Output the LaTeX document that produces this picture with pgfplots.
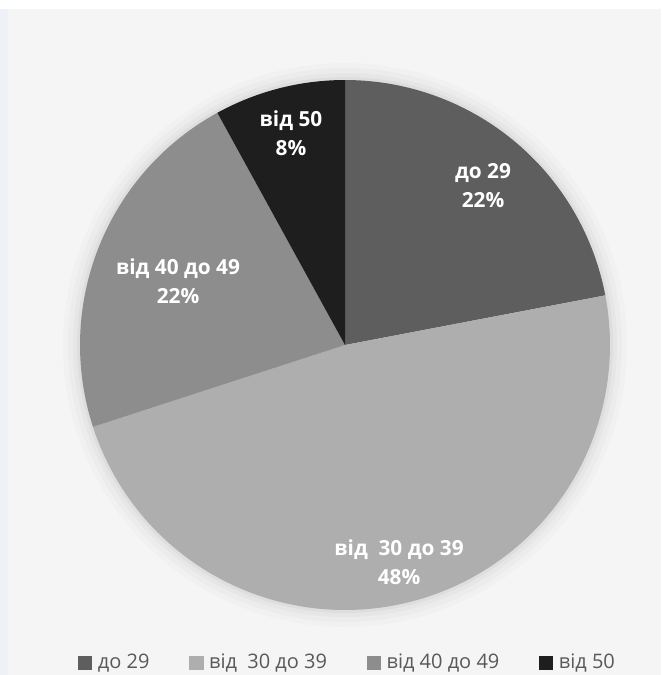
\documentclass[border=0pt]{standalone}
\usepackage{pgfplots}
\pgfplotsset{compat=1.18}
\usepackage{pgfplotstable}
\usepackage{fontspec}
\setmainfont{Open Sans}
\definecolor{cA}{HTML}{5E5E5E}
\definecolor{cB}{HTML}{AEAEAE}
\definecolor{cC}{HTML}{8D8D8D}
\definecolor{cD}{HTML}{1E1E1E}
\definecolor{panel}{HTML}{F5F5F5}
\definecolor{legtext}{HTML}{595959}
\definecolor{edgeblue}{HTML}{EEF2F7}
\pgfplotstableread{
idx value
0 22
1 48
2 22
3 8
}\piedata
\begin{document}
\begin{tikzpicture}
\useasboundingbox (0pt,0pt) rectangle (330.5pt,-337.5pt);
% background
\fill[white] (0pt,0pt) rectangle (330.5pt,-337.5pt);
\fill[edgeblue] (0pt,-4.5pt) rectangle (4pt,-337.5pt);
\fill[panel] (4pt,-4.5pt) rectangle (330.5pt,-337.5pt);
% soft shadow
\fill[black,opacity=0.015] (172.5pt,-172.5pt) circle (141pt);
\fill[black,opacity=0.02] (172.5pt,-172.5pt) circle (138.5pt);
\fill[black,opacity=0.025] (172.5pt,-172.5pt) circle (136pt);
\fill[black,opacity=0.03] (172.5pt,-172.5pt) circle (134pt);
% angles from data
\pgfplotstablegetelem{0}{value}\of\piedata \let\va\pgfplotsretval
\pgfplotstablegetelem{1}{value}\of\piedata \let\vb\pgfplotsretval
\pgfplotstablegetelem{2}{value}\of\piedata \let\vc\pgfplotsretval
\pgfplotstablegetelem{3}{value}\of\piedata \let\vd\pgfplotsretval
\pgfmathsetmacro\aA{90}
\pgfmathsetmacro\aB{\aA-3.6*\va}
\pgfmathsetmacro\aC{\aB-3.6*\vb}
\pgfmathsetmacro\aD{\aC-3.6*\vc}
\pgfmathsetmacro\aE{\aD-3.6*\vd}
\begin{axis}[
  at={(172.5pt,-172.5pt)}, anchor=center,
  width=265pt, height=265pt, scale only axis,
  xmin=-1, xmax=1, ymin=-1, ymax=1,
  hide axis, clip=false,
  legend columns=4,
  legend image code/.code={\fill[#1] (0pt,-3.6pt) rectangle (7.2pt,3.6pt);},
  legend style={at={(0.508,-0.1)}, anchor=center, draw=none, fill=none,
    font=\fontsize{10}{12}\selectfont, text=legtext,
    /tikz/every even column/.append style={column sep=17pt},
    nodes={inner xsep=2.8pt}},
]
\addplot[fill=cA, draw=none, domain=\aB:\aA, samples=90] ({cos(x)},{sin(x)}) -- (axis cs:0,0) -- cycle;
\addlegendentry{до 29}
\addplot[fill=cB, draw=none, domain=\aC:\aB, samples=180] ({cos(x)},{sin(x)}) -- (axis cs:0,0) -- cycle;
\addlegendentry{від~~30 до 39}
\addplot[fill=cC, draw=none, domain=\aD:\aC, samples=90] ({cos(x)},{sin(x)}) -- (axis cs:0,0) -- cycle;
\addlegendentry{від 40 до 49}
\addplot[fill=cD, draw=none, domain=\aE:\aD, samples=40] ({cos(x)},{sin(x)}) -- (axis cs:0,0) -- cycle;
\addlegendentry{від 50}
\end{axis}
% data labels
\begin{scope}[every node/.style={text=white, align=center, font=\fontsize{10.4}{14.5}\selectfont\bfseries}]
\node at (241.5pt,-93pt) {до 29\\22\%};
\node at (145.5pt,-66.5pt) {від 50\\8\%};
\node at (89pt,-140.5pt) {від 40 до 49\\22\%};
\node at (199.5pt,-281pt) {від~~30 до 39\\48\%};
\end{scope}
\end{tikzpicture}
\end{document}
